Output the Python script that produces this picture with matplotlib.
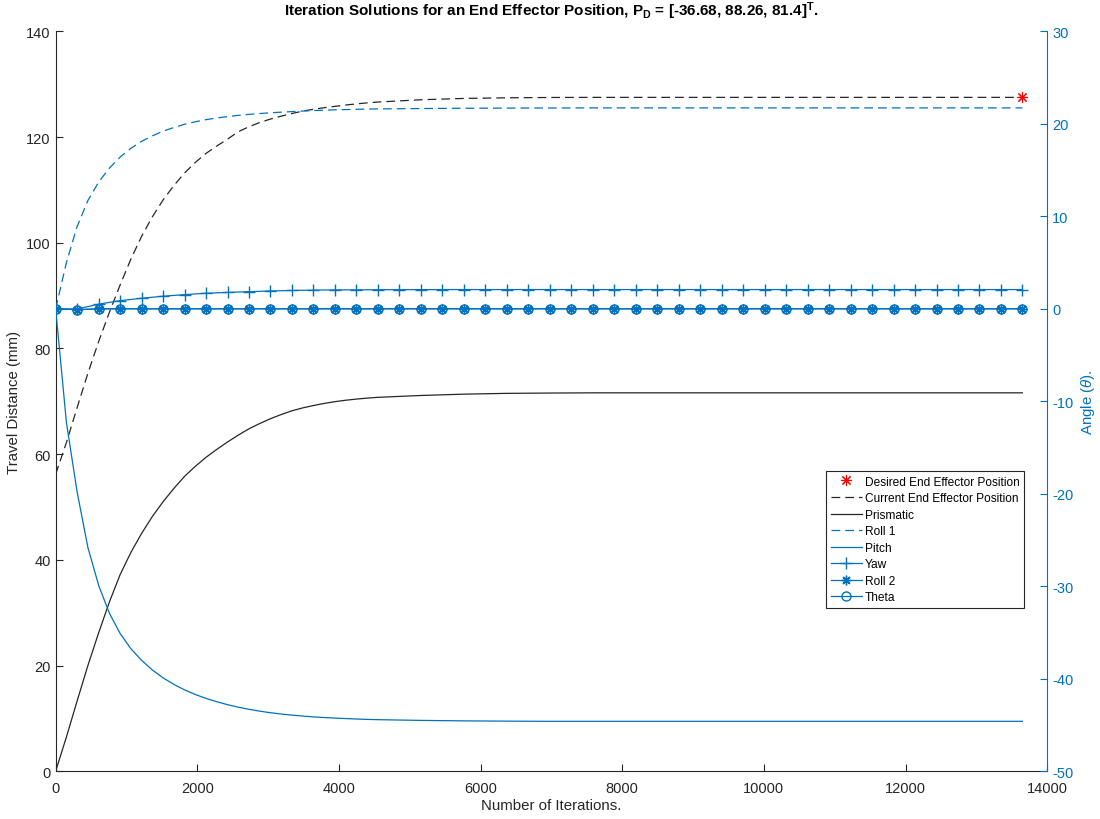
import matplotlib.pyplot as plt

plt.rcParams['font.family'] = ['Liberation Sans', 'DejaVu Sans']
plt.rcParams['mathtext.fontset'] = 'custom'
plt.rcParams['mathtext.rm'] = 'Liberation Sans'
plt.rcParams['mathtext.it'] = 'Liberation Sans:italic'
plt.rcParams['mathtext.bf'] = 'Liberation Sans:bold'
plt.rcParams['axes.unicode_minus'] = False

# iteration numbers for the fast converging series
iters = [0, 152, 303, 455, 607, 758, 910, 1062, 1213, 1365, 1517, 1668, 1820, 1972,
         2123, 2275, 2427, 2578, 2730, 2882, 3033, 3185, 3337, 3488, 3640, 3792,
         3943, 4095, 4247, 4398, 4550, 5157, 5763, 6370, 6977, 7583, 8190, 8797,
         9403, 10010, 10617, 11223, 11830, 12437, 13043, 13650]

# iteration numbers where the marked series were logged
iters_mk = [0, 303, 607, 910, 1213, 1517, 1820, 2123, 2427, 2730, 3033, 3337, 3640,
            3943, 4247, 4550, 4853, 5157, 5460, 5763, 6067, 6370, 6673, 6977, 7280,
            7583, 7887, 8190, 8493, 8797, 9100, 9403, 9707, 10010, 10313, 10617,
            10920, 11223, 11527, 11830, 12133, 12437, 12740, 13043, 13347, 13650]

# travel distances (mm)
current = [56.2, 62.2, 68.8, 75.3, 81.3, 86.8, 92.0, 96.9, 101.2, 104.9, 108.1,
           110.8, 113.2, 115.2, 116.9, 118.3, 119.6, 121.0, 121.95, 122.75, 123.4,
           123.95, 124.45, 124.9, 125.25, 125.55, 125.8, 126.05, 126.27, 126.46,
           126.62, 127.05, 127.3, 127.42, 127.48, 127.5, 127.5, 127.5, 127.5, 127.5,
           127.5, 127.5, 127.5, 127.5, 127.5, 127.5]
prismatic = [0.0, 6.5, 13.3, 20.0, 26.2, 32.0, 37.2, 41.4, 45.0, 48.2, 51.0, 53.5,
             55.8, 57.7, 59.4, 60.9, 62.3, 63.6, 64.8, 65.8, 66.7, 67.5, 68.2, 68.75,
             69.2, 69.6, 69.93, 70.2, 70.42, 70.6, 70.75, 71.1, 71.35, 71.5, 71.56,
             71.6, 71.6, 71.6, 71.6, 71.6, 71.6, 71.6, 71.6, 71.6, 71.6, 71.6]
desired_iter = [13650]
desired_pos = [127.5]

# joint angles
roll1 = [0.0, 5.0, 8.9, 11.7, 13.7, 15.2, 16.4, 17.35, 18.1, 18.7, 19.2, 19.6,
         19.95, 20.22, 20.45, 20.63, 20.78, 20.91, 21.02, 21.11, 21.19, 21.26, 21.32,
         21.38, 21.43, 21.47, 21.51, 21.54, 21.57, 21.59, 21.61, 21.65, 21.68, 21.7,
         21.71, 21.72, 21.72, 21.72, 21.72, 21.72, 21.72, 21.72, 21.72, 21.72,
         21.72, 21.72]
pitch = [0.0, -12.3, -19.8, -25.8, -29.9, -32.9, -35.1, -36.75, -38.0, -39.05, -39.9,
         -40.6, -41.2, -41.7, -42.12, -42.48, -42.8, -43.07, -43.3, -43.5, -43.67,
         -43.81, -43.93, -44.03, -44.12, -44.19, -44.25, -44.3, -44.35, -44.39,
         -44.42, -44.5, -44.55, -44.58, -44.6, -44.6, -44.6, -44.6, -44.6, -44.6,
         -44.6, -44.6, -44.6, -44.6, -44.6, -44.6]
yaw = [0.0, -0.03, 0.5, 0.88, 1.14, 1.36, 1.53, 1.68, 1.77, 1.85, 1.93, 1.98, 2.02,
       2.04, 2.05, 2.06, 2.07, 2.07, 2.08, 2.08, 2.08, 2.08, 2.08, 2.08, 2.08, 2.08,
       2.08, 2.08, 2.08, 2.08, 2.08, 2.08, 2.08, 2.08, 2.08, 2.08, 2.08, 2.08, 2.08,
       2.08, 2.08, 2.08, 2.08, 2.08, 2.08, 2.08]
roll2 = [0.0, -0.1, 0, 0, 0, 0, 0, 0, 0, 0, 0, 0, 0, 0, 0, 0, 0, 0, 0, 0, 0, 0, 0,
         0, 0, 0, 0, 0, 0, 0, 0, 0, 0, 0, 0, 0, 0, 0, 0, 0, 0, 0, 0, 0, 0, 0]
theta = [0.0, -0.1, 0, 0, 0, 0, 0, 0, 0, 0, 0, 0, 0, 0, 0, 0, 0, 0, 0, 0, 0, 0, 0,
         0, 0, 0, 0, 0, 0, 0, 0, 0, 0, 0, 0, 0, 0, 0, 0, 0, 0, 0, 0, 0, 0, 0]

blue = '#0072BD'
dark = '#262626'
asterisk = (8, 2, 0)

fig = plt.figure(figsize=(11, 8.2), dpi=100)
ax = fig.add_axes([0.0506, 0.0582, 0.9014, 0.9024])
ax2 = ax.twinx()

h_cur, = ax.plot(iters, current, color=dark, lw=0.9, dashes=(7, 4),
                 label='Current End Effector Position')
h_pri, = ax.plot(iters, prismatic, color=dark, lw=0.9, label='Prismatic')
h_des, = ax.plot(desired_iter, desired_pos, ls='none', marker=asterisk, ms=8,
                 mew=0.8, color='red', label='Desired End Effector Position')

h_r1, = ax2.plot(iters, roll1, color=blue, lw=0.9, dashes=(7, 4), label='Roll 1')
h_pit, = ax2.plot(iters, pitch, color=blue, lw=0.9, label='Pitch')
h_yaw, = ax2.plot(iters_mk, yaw, color=blue, lw=0.9, marker='+', ms=8, mew=1.0,
                  label='Yaw')
h_r2, = ax2.plot(iters_mk, roll2, color=blue, lw=0.9, marker=asterisk, ms=7,
                 mew=1.0, label='Roll 2')
h_th, = ax2.plot(iters_mk, theta, color=blue, lw=0.9, marker='o', ms=6.5,
                 mew=1.0, mfc='none', label='Theta')

ax.set_xlim(0, 14000)
ax.set_ylim(0, 140)
ax2.set_ylim(-50, 30)
ax.set_xticks(range(0, 14001, 2000))
ax.set_yticks(range(0, 141, 20))
ax2.set_yticks(range(-50, 31, 10))

ax.spines['top'].set_visible(False)
ax2.spines['top'].set_visible(False)
ax.spines['right'].set_visible(False)
ax2.spines['left'].set_visible(False)
ax2.spines['bottom'].set_visible(False)
ax.spines['left'].set_color(dark)
ax.spines['bottom'].set_color(dark)
ax2.spines['right'].set_color(blue)

ax.tick_params(direction='in', length=5, labelsize=10.5, colors=dark)
ax.tick_params(axis='x', pad=7)
ax2.tick_params(direction='in', length=5, labelsize=10.5, colors=blue)

ax.set_xlabel('Number of Iterations.', fontsize=10.8, color=dark, labelpad=2)
ax.set_ylabel('Travel Distance (mm)', fontsize=10.8, color=dark)
ax2.set_ylabel(r'Angle ($\mathit{\theta}$).', fontsize=10.8, color=blue)
ax.set_title(r'Iteration Solutions for an End Effector Position, P$_{\mathbf{D}}$ = '
             r'[-36.68, 88.26, 81.4]$^{\mathbf{T}}$.',
             fontsize=11, fontweight='bold', color='black', y=1.022, pad=0)

handles = [h_des, h_cur, h_pri, h_r1, h_pit, h_yaw, h_r2, h_th]
leg = ax2.legend(handles=handles, loc='upper right', bbox_to_anchor=(0.977, 0.406),
                 borderaxespad=0, fontsize=8.6, frameon=True, fancybox=False,
                 framealpha=1, edgecolor=dark, handlelength=2.6,
                 handletextpad=0.25, labelspacing=0.38, borderpad=0.4)
leg.get_frame().set_linewidth(0.8)

fig.savefig('out.png', dpi=100)
